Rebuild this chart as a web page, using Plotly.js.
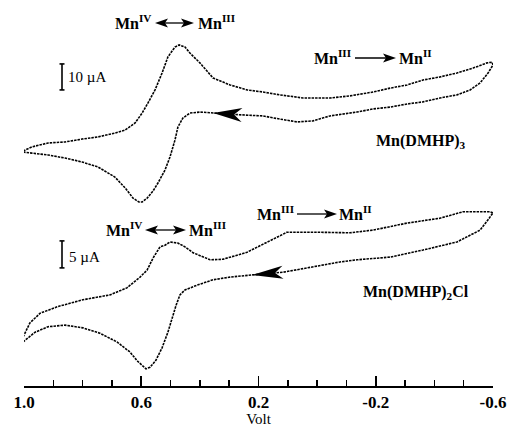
<!DOCTYPE html>
<html><head><meta charset="utf-8">
<script src="https://cdn.plot.ly/plotly-3.0.1.min.js"></script>
<style>html,body{margin:0;padding:0;background:#fff}#chart{width:507px;height:427px}</style>
</head><body><div id="chart"></div>
<script>
// ---- data (potential in V, current in µA, arbitrary zero) ----
// Mn(DMHP)3 : forward scan (upper branch) 1.0 -> -0.6 V
const topFwdV = [1.003,0.973,0.918,0.860,0.802,0.748,0.690,0.655,0.621,0.597,0.577,0.553,0.529,0.509,0.485,0.471,0.451,0.434,0.400,0.355,0.297,0.239,0.185,0.127,0.048,-0.044,-0.112,-0.191,-0.249,-0.307,-0.361,-0.419,-0.477,-0.532,-0.580,-0.597];
const topFwdI = [-0.4,1.2,2.7,3.1,4.2,5.0,6.5,7.7,10.4,14.2,18.1,23.1,29.6,35.8,39.6,40.4,39.6,37.3,33.5,27.7,25.0,23.1,22.3,21.2,20.0,20.0,20.8,22.3,23.8,25.0,26.9,28.1,29.6,31.5,33.5,33.8];
// Mn(DMHP)3 : reverse scan (lower branch) -0.6 -> 1.0 V
const topRevV = [-0.600,-0.583,-0.556,-0.522,-0.477,-0.419,-0.361,-0.307,-0.249,-0.191,-0.136,-0.078,-0.044,0.014,0.069,0.127,0.185,0.256,0.355,0.400,0.434,0.458,0.475,0.485,0.502,0.519,0.543,0.560,0.580,0.597,0.608,0.628,0.655,0.690,0.748,0.802,0.860,0.918,0.973,1.003];
const topRevI = [32.7,29.6,25.8,23.1,21.2,20.0,18.5,17.7,16.5,15.8,14.6,13.8,13.1,11.2,10.8,11.9,13.1,13.5,14.2,14.6,14.2,12.3,8.8,3.8,-2.7,-7.7,-12.7,-15.8,-18.5,-20.0,-20.0,-18.5,-14.6,-10.4,-6.5,-4.6,-3.1,-1.9,-1.2,-0.8];
// Mn(DMHP)2Cl : forward scan
const botFwdV = [1.003,0.997,0.980,0.945,0.887,0.799,0.707,0.649,0.604,0.580,0.560,0.536,0.519,0.502,0.475,0.451,0.423,0.365,0.321,0.239,0.171,0.103,-0.010,-0.112,-0.191,-0.307,-0.419,-0.498,-0.590];
const botFwdI = [-1.3,-0.6,1.3,3.1,4.3,5.6,6.5,7.8,9.8,11.1,13.3,15.4,15.7,16.3,16.1,15.4,14.3,13.0,13.1,14.4,16.3,18.1,18.1,18.0,18.5,19.8,20.7,21.9,21.9];
// Mn(DMHP)2Cl : reverse scan
const botRevV = [-0.600,-0.583,-0.556,-0.477,-0.361,-0.249,-0.136,-0.078,0.014,0.116,0.222,0.297,0.355,0.410,0.451,0.468,0.481,0.495,0.509,0.529,0.550,0.570,0.584,0.594,0.614,0.638,0.683,0.741,0.799,0.860,0.918,0.962,1.003];
const botRevI = [21.7,20.4,18.5,16.3,14.8,13.5,13.0,12.6,11.7,10.7,10.2,9.8,9.3,8.3,7.4,6.5,4.6,2.2,-0.4,-3.3,-5.6,-6.9,-7.2,-6.7,-5.7,-4.1,-2.2,-0.6,0.4,0.9,0.6,-0.4,-2.2];

const majorTickVals = [1.0, 0.6, 0.2, -0.2, -0.6];
const majorTickText = ['1.0', '0.6', '0.2', '-0.2', '-0.6'];
const minorTickVals = [0.9, 0.8, 0.7, 0.5, 0.4, 0.3, 0.1, 0.0, -0.1, -0.3, -0.4, -0.5];
const compoundNames = ['Mn(DMHP)<sub>3</sub>', 'Mn(DMHP)<sub>2</sub>Cl'];
const scaleBarUA = [10, 5];
const scaleBarBase = [23.1, 11.5];
const xTitle = 'Volt';

// ---- geometry helpers ----
const W = 507, H = 427, M = {l: 24, r: 14, t: 0, b: 41};
const PW = W - M.l - M.r, PH = H - M.t - M.b;
const XR = [1.0, -0.6];
const YR = {y: [-90.77, 57.69], y2: [-10.37, 61.11]};
function toPx(v, i, ax) {
  const r = YR[ax];
  return [M.l + (v - XR[0]) / (XR[1] - XR[0]) * PW, M.t + PH - (i - r[0]) / (r[1] - r[0]) * PH];
}
function toPaper(x, y) { return [(x - M.l) / PW, (M.t + PH - y) / PH]; }
function headPath(tx, ty, ang, len, half, notch) {
  const c = Math.cos(ang), s = Math.sin(ang);
  const pts = [[0, 0], [-len, -half], [-len + notch, 0], [-len, half]].map(([a, b]) => [tx + a * c - b * s, ty + a * s + b * c]);
  return 'M' + pts.map(p => { const q = toPaper(p[0], p[1]); return q[0].toFixed(5) + ',' + q[1].toFixed(5); }).join('L') + 'Z';
}
const shapes = [];
function headShape(tx, ty, ang, len, half, notch) {
  shapes.push({type: 'path', xref: 'paper', yref: 'paper', path: headPath(tx, ty, ang, len, half, notch), fillcolor: 'black', line: {width: 0}});
}
function pxLine(x0, y0, x1, y1, w) {
  const a = toPaper(x0, y0), b = toPaper(x1, y1);
  shapes.push({type: 'line', xref: 'paper', yref: 'paper', x0: a[0], y0: a[1], x1: b[0], y1: b[1], line: {color: 'black', width: w}});
}
// text arrows
function doubleArrow(x0, x1, y) { pxLine(x0 + 8, y, x1 - 8, y, 1.3); headShape(x0, y, Math.PI, 13, 4.5, 3); headShape(x1, y, 0, 13, 4.5, 3); }
function rightArrow(x0, x1, y) { pxLine(x0, y, x1 - 8, y, 1.3); headShape(x1, y, 0, 13, 4.5, 3); }
doubleArrow(155, 194, 23);
rightArrow(355, 396, 58);
doubleArrow(145, 186, 230);
rightArrow(297, 337, 214);

// arrows on reverse scans
function curveArrow(vArr, iArr, idx, ax, len, half, notch) {
  const p = toPx(vArr[idx], iArr[idx], ax), q = toPx(vArr[idx - 1], iArr[idx - 1], ax);
  headShape(p[0], p[1], Math.atan2(p[1] - q[1], p[0] - q[0]), len, half, notch);
}
curveArrow(topRevV, topRevI, 18, 'y', 29, 7, 8);
curveArrow(botRevV, botRevI, 10, 'y2', 31, 6.5, 8);

// scale bars
function scaleBar(ax, base, len, xpx) {
  const xa = toPaper(xpx, 0)[0], xl = toPaper(xpx - 2.5, 0)[0], xr = toPaper(xpx + 2.5, 0)[0];
  const yref = ax;
  shapes.push({type: 'line', xref: 'paper', yref, x0: xa, x1: xa, y0: base, y1: base + len, line: {color: 'black', width: 1.6}});
  shapes.push({type: 'line', xref: 'paper', yref, x0: xl, x1: xr, y0: base, y1: base, line: {color: 'black', width: 1.6}});
  shapes.push({type: 'line', xref: 'paper', yref, x0: xl, x1: xr, y0: base + len, y1: base + len, line: {color: 'black', width: 1.6}});
}
scaleBar('y', scaleBarBase[0], scaleBarUA[0], 62);
scaleBar('y2', scaleBarBase[1], scaleBarUA[1], 62);

const SERIF = 'Liberation Serif, Times New Roman, serif';
function label(text, xpx, ypx, anchor, size, bold) {
  const p = toPaper(xpx, ypx);
  return {xref: 'paper', yref: 'paper', x: p[0], y: p[1], xanchor: anchor, yanchor: 'middle', showarrow: false,
    text: bold ? '<b>' + text + '</b>' : text, font: {family: SERIF, size, color: 'black'}};
}
const annotations = [
  label('Mn<sup>IV</sup>', 153, 22, 'right', 16, true),
  label('Mn<sup>III</sup>', 196, 22, 'left', 16, true),
  label('Mn<sup>III</sup>', 312, 57, 'left', 16, true),
  label('Mn<sup>II</sup>', 397, 57, 'left', 16, true),
  label(compoundNames[0], 374, 141, 'left', 16, true),
  label(scaleBarUA[0] + ' µA', 66, 77, 'left', 15, false),
  label('Mn<sup>IV</sup>', 144, 229, 'right', 16, true),
  label('Mn<sup>III</sup>', 187, 229, 'left', 16, true),
  label('Mn<sup>III</sup>', 255, 213, 'left', 16, true),
  label('Mn<sup>II</sup>', 337, 213, 'left', 16, true),
  label(compoundNames[1], 361, 292, 'left', 16, true),
  label(scaleBarUA[1] + ' µA', 67, 257, 'left', 15, false)
];

const lineStyle = {color: 'black', width: 1.6, dash: '2.5px,1px'};
const traces = [
  {x: topFwdV.concat(topRevV), y: topFwdI.concat(topRevI), yaxis: 'y', mode: 'lines', line: lineStyle, name: 'Mn(DMHP)3'},
  {x: botFwdV.concat(botRevV), y: botFwdI.concat(botRevI), yaxis: 'y2', mode: 'lines', line: lineStyle, name: 'Mn(DMHP)2Cl'}
];

const layout = {
  width: W, height: H, margin: M, showlegend: false,
  paper_bgcolor: 'white', plot_bgcolor: 'white',
  xaxis: {
    range: XR, showgrid: false, zeroline: false, showline: true, linecolor: 'black', linewidth: 2,
    ticks: 'inside', ticklen: 10, tickwidth: 1.6, tickcolor: 'black',
    tickmode: 'array', tickvals: majorTickVals, ticktext: majorTickText,
    tickfont: {family: SERIF, size: 17, color: 'black', weight: 'bold'}, ticklabelstandoff: 0,
    minor: {tickmode: 'array', tickvals: minorTickVals, ticks: 'inside', ticklen: 6, tickwidth: 1.6, tickcolor: 'black', showgrid: false},
    title: {text: xTitle, font: {family: SERIF, size: 15, color: 'black'}, standoff: 1},
    fixedrange: true
  },
  yaxis: {visible: false, range: YR.y, fixedrange: true},
  yaxis2: {visible: false, range: YR.y2, overlaying: 'y', fixedrange: true},
  shapes, annotations
};
Plotly.newPlot('chart', traces, layout, {staticPlot: true, displayModeBar: false});
</script></body></html>
